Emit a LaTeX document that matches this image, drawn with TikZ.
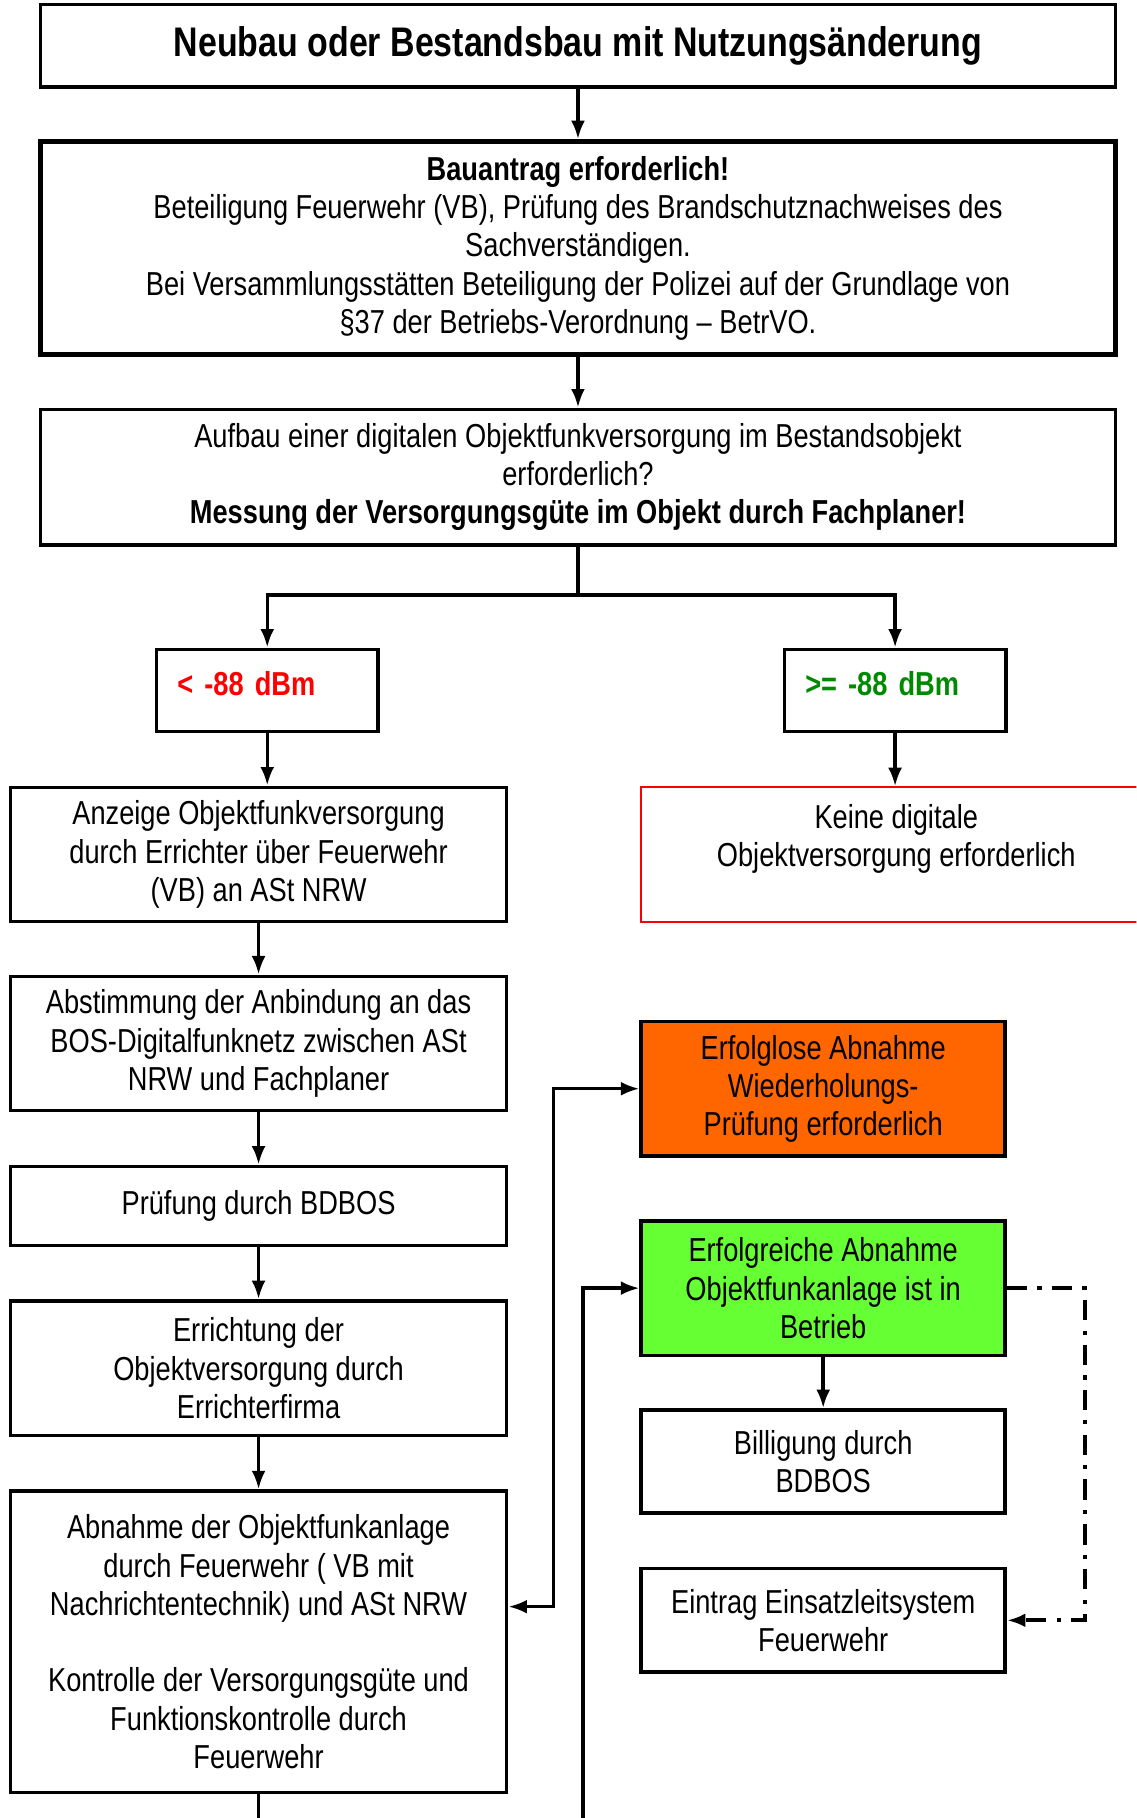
\documentclass[tikz,border=0pt]{standalone}
\usepackage{fontspec}
\setmainfont{Liberation Sans}[FakeStretch=0.82]
\usetikzlibrary{arrows.meta}
\definecolor{signalred}{HTML}{FF0000}
\definecolor{signalgreen}{HTML}{008A00}
\definecolor{failorange}{HTML}{FF6600}
\definecolor{okgreen}{HTML}{66FF33}

\begin{document}
\begin{tikzpicture}[x=0.02cm, y=-0.02cm,
    box/.style={rectangle, draw, line width=1.7pt, align=center, inner sep=2pt,
        font=\fontsize{16.3}{18.8}\selectfont},
    arr/.style={-{Latex[length=0.32cm,width=0.24cm]}, line width=1.7pt}]
    \useasboundingbox (0,0) rectangle (980,1568);
    \clip (0,0) rectangle (980,1568);
    % Kopf und Antrag
    \node[box, minimum width=18.54cm, minimum height=1.42cm,
        font=\bfseries\fontsize{20.3}{23}\selectfont] (start) at (498.5,39.5)
        {Neubau oder Bestandsbau mit Nutzungsänderung};
    \node[box, line width=2.3pt, minimum width=18.54cm, minimum height=3.68cm] (antrag) at (498.5,214)
        {\textbf{Bauantrag erforderlich!}\\
         Beteiligung Feuerwehr (VB), Prüfung des Brandschutznachweises des\\
         Sachverständigen.\\
         Bei Versammlungsstätten Beteiligung der Polizei auf der Grundlage von\\
         §37 der Betriebs-Verordnung – BetrVO.};
    \node[box, minimum width=18.54cm, minimum height=2.34cm] (messung) at (498.5,411.5)
        {Aufbau einer digitalen Objektfunkversorgung im Bestandsobjekt\\
         erforderlich?\\
         \textbf{Messung der Versorgungsgüte im Objekt durch Fachplaner!}};
    % Messwerte
    \node[box, minimum width=3.82cm, minimum height=1.42cm, text width=3.1cm, align=left, text depth=7pt,
        text=signalred, font=\bfseries\fontsize{16.3}{18.8}\selectfont] (lo) at (230.5,595.5) {< -88 dBm};
    \node[box, minimum width=3.82cm, minimum height=1.42cm, text width=3.1cm, align=left, text depth=7pt,
        text=signalgreen, font=\bfseries\fontsize{16.3}{18.8}\selectfont] (hi) at (772,595.5) {>= -88 dBm};
    \node[box, draw=signalred, line width=1pt, minimum width=8.8cm, minimum height=2.32cm] (keine) at (773,737)
        {Keine digitale\\Objektversorgung erforderlich\\~};
    % linker Strang
    \node[box, minimum width=8.56cm, minimum height=2.32cm] (anzeige) at (223,737)
        {Anzeige Objektfunkversorgung\\durch Errichter über Feuerwehr\\(VB) an ASt NRW};
    \node[box, minimum width=8.56cm, minimum height=2.32cm] (abstimmung) at (223,900)
        {Abstimmung der Anbindung an das\\BOS-Digitalfunknetz zwischen ASt\\NRW und Fachplaner};
    \node[box, minimum width=8.56cm, minimum height=1.36cm] (bdbos) at (223,1040)
        {Prüfung durch BDBOS};
    \node[box, minimum width=8.56cm, minimum height=2.32cm] (errichtung) at (223,1180)
        {Errichtung der\\Objektversorgung durch\\Errichterfirma};
    \node[box, minimum width=8.56cm, minimum height=5.2cm] (abnahme) at (223,1416)
        {Abnahme der Objektfunkanlage\\durch Feuerwehr ( VB mit\\Nachrichtentechnik) und ASt NRW\\~\\
         Kontrolle der Versorgungsgüte und\\Funktionskontrolle durch\\Feuerwehr};
    % rechter Strang
    \node[box, fill=failorange, minimum width=6.28cm, minimum height=2.32cm] (erfolglos) at (710,939)
        {Erfolglose Abnahme\\Wiederholungs-\\Prüfung erforderlich};
    \node[box, fill=okgreen, minimum width=6.28cm, minimum height=2.32cm] (erfolgreich) at (710,1111)
        {Erfolgreiche Abnahme\\Objektfunkanlage ist in\\Betrieb};
    \node[box, minimum width=6.28cm, minimum height=1.78cm] (billigung) at (710,1260.5)
        {Billigung durch\\BDBOS};
    \node[box, minimum width=6.28cm, minimum height=1.78cm] (eintrag) at (710,1397.5)
        {Eintrag Einsatzleitsystem\\Feuerwehr};
    % Verbindungen
    \coordinate (split) at (498.5,513);
    \coordinate (tailA) at (223,1590);
    \coordinate (tailB) at (503,1590);
    \draw[arr] (start) -- (antrag);
    \draw[arr] (antrag) -- (messung);
    \draw[line width=1.7pt] (messung.south) -- (split);
    \draw[arr] (split) -| (lo.north);
    \draw[arr] (split) -| (hi.north);
    \draw[arr] (lo) -- (lo.south |- anzeige.north);
    \draw[arr] (hi) -- (hi.south |- keine.north);
    \draw[arr] (anzeige) -- (abstimmung);
    \draw[arr] (abstimmung) -- (bdbos);
    \draw[arr] (bdbos) -- (errichtung);
    \draw[arr] (errichtung) -- (abnahme);
    \draw[line width=1.7pt] (abnahme.south) -- (tailA);
    \draw[arr, {Latex[length=0.32cm,width=0.24cm]}-{Latex[length=0.32cm,width=0.24cm]}]
        (abnahme.8) -- ++(39,0) |- (erfolglos.west);
    \draw[arr] (tailB) |- (erfolgreich.west);
    \draw[arr] (erfolgreich) -- (billigung);
    \draw[arr, line width=2pt, dash pattern=on 10pt off 5pt on 2pt off 5pt]
        (erfolgreich.east) -- ++(67,0) |- (eintrag.east);
\end{tikzpicture}
\end{document}
